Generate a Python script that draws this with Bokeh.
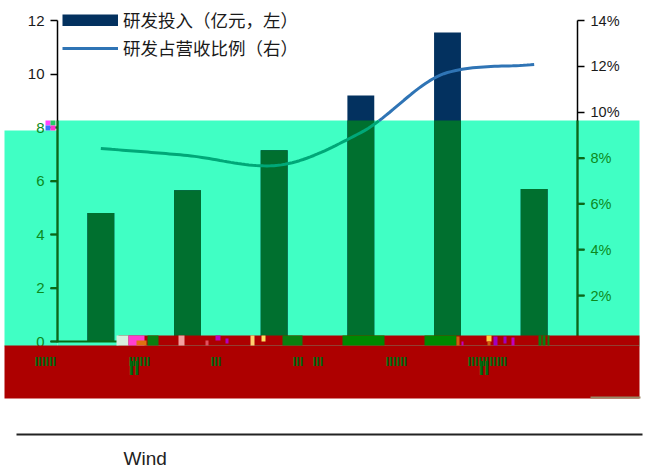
from bokeh.plotting import figure
from bokeh.layouts import column
from bokeh.models import (Legend, LegendItem, LinearAxis, Range1d, FixedTicker)
from bokeh.core.properties import value
from bokeh.embed import file_html
from bokeh.resources import INLINE

positions = [0, 1, 2, 3, 4, 5]
rd_spend = [4.8, 5.65, 7.15, 9.2, 11.55, 5.7]
rd_ratio = [8.42, 8.11, 7.67, 9.11, 11.73, 12.08]
left_ticks = [0, 2, 4, 6, 8, 10, 12]
right_ticks = [2, 4, 6, 8, 10, 12, 14]
series_names = ["研发投入（亿元，左）", "研发占营收比例（右）"]
footer_source = "Wind"
garbled_small = ["IIIIII", "IIIIII", "III", "III", "III", "IIIIII", "IIIIIIIIIII"]
garbled_tall = ["II", "II"]

W, H = 651, 468
FL, FR, FT, FB = 57, 577, 20, 341
NAVY, BLUE, TEAL, RED = "#03315f", "#2f74b5", "#40ffc4", "#ad0000"
BARG, LINEG, AXG, LABG = "#00702f", "#00a878", "#0a6a14", "#0c8a1c"
L_PX = (FB - FT) / 12
R_PX = (FB - FT) / 14
band_left = (FB - 120) / L_PX
band_right = (FB - 120) / R_PX


def page_figure(fill):
    f = figure(width=W, height=H, output_backend="svg", toolbar_location=None,
               x_range=Range1d(0, W), y_range=Range1d(H, 0),
               min_border_left=0, min_border_right=0, min_border_top=0, min_border_bottom=0,
               background_fill_color=None, border_fill_color=fill, outline_line_color=None,
               x_axis_location=None, y_axis_location=None, frame_align=False)
    f.grid.visible = False
    return f


def rect(f, l, t, r, b, c):
    f.quad(left=[l], right=[r], top=[t], bottom=[b], fill_color=c, line_color=None)


def txt(f, x, y, s, c, size="15px", font="Liberation Sans", style="normal", base="middle", align="left"):
    f.text(x=[x], y=[y], text=[s], text_color=c, text_font=value(font), text_font_style=style,
           text_font_size=value(size), text_baseline=base, text_align=align)


# ---- bottom layer: the teal band
under = page_figure("white")
rect(under, 4, 130, 57, 346, TEAL)
rect(under, 57, 120, 639, 346, TEAL)

# ---- middle layer: the chart itself
p = figure(width=W, height=H, output_backend="svg", toolbar_location=None,
           x_range=Range1d(-0.5, 5.5), y_range=Range1d(0, FB / L_PX),
           min_border_left=FL, min_border_right=W - FR, min_border_top=0, min_border_bottom=H - FB,
           background_fill_color=None, border_fill_color=None, outline_line_color=None,
           margin=(-H, 0, 0, 0), frame_align=False)
p.grid.visible = False
p.xaxis.visible = False
p.extra_y_ranges["pct"] = Range1d(0, FB / R_PX)

p.vbar(x=positions, top=rd_spend, bottom=0, width=0.31, fill_color=NAVY, line_color=None)
p.vbar(x=positions, top=[min(v, band_left) for v in rd_spend], bottom=0, width=0.31,
       fill_color=BARG, line_color=None)
# legend key only: a thick navy line lying below the visible range
navy_key = p.line(positions, [-5 for _ in positions], line_color=NAVY, line_width=12)


def smooth(xs, ys, n=24):
    # Hermite display curve through the read values
    m = len(xs)
    sec = [ys[i + 1] - ys[i] for i in range(m - 1)]
    tan = [sec[0]]
    for i in range(1, m - 1):
        a, b = sec[i - 1], sec[i]
        harm = 2 * a * b / (a + b) if a * b > 0 else 0.0
        tan.append(0.5 * (0.5 * (a + b) + harm))
    tan.append(sec[-1])
    ox, oy = [], []
    for i in range(m - 1):
        for k in range(n):
            t = k / n
            ox.append(xs[i] + t)
            oy.append((2 * t**3 - 3 * t**2 + 1) * ys[i] + (t**3 - 2 * t**2 + t) * tan[i]
                      + (-2 * t**3 + 3 * t**2) * ys[i + 1] + (t**3 - t**2) * tan[i + 1])
    ox.append(xs[-1]); oy.append(ys[-1])
    return ox, oy


sx, sy = smooth(positions, rd_ratio)
cross = next(i for i, v in enumerate(sy) if v > band_right)
blue = p.line(sx[cross - 1:], sy[cross - 1:], y_range_name="pct", line_color=BLUE, line_width=3)
p.line(sx[:cross], sy[:cross], y_range_name="pct", line_color=LINEG, line_width=3)

lax = p.yaxis[0]
lax.bounds = (0, 12)
lax.ticker = FixedTicker(ticks=left_ticks)
lax.major_label_overrides = {v: ("" if v <= 8 else str(v)) for v in left_ticks}
rax = LinearAxis(y_range_name="pct", bounds=(0, 14), ticker=FixedTicker(ticks=right_ticks),
                 major_label_overrides={v: ("" if v <= 8 else f"{v}%") for v in right_ticks})
p.add_layout(rax, "right")
for ax, size in ((lax, "15px"), (rax, "14.5px")):
    ax.axis_line_color = "black"
    ax.axis_line_width = 1.5
    ax.major_tick_line_color = "black"
    ax.major_tick_line_width = 1.5
    ax.major_tick_out = 7
    ax.major_tick_in = 0
    ax.minor_tick_line_color = None
    ax.major_label_text_font = "Liberation Sans"
    ax.major_label_text_font_size = size
    ax.major_label_text_color = "#1a1a1a"
    ax.major_label_standoff = 6

legend = Legend(items=[LegendItem(label=series_names[0], renderers=[navy_key]),
                       LegendItem(label=series_names[1], renderers=[blue])],
                location=(5, 281), orientation="vertical", background_fill_alpha=0, border_line_color=None,
                padding=0, margin=0, glyph_width=56, glyph_height=12, label_height=20, spacing=3,
                label_standoff=5, label_text_font="Noto Sans CJK SC", label_text_font_size="17.5px",
                label_text_color="#1a1a1a", label_text_baseline="middle")
p.add_layout(legend)

# ---- top layer: green overprint, red block, corrupted patches, footer
top = page_figure(None)
top.margin = (-H, 0, 0, 0)
for xa in (FL, FR):
    rect(top, xa - 1, 120, xa + 1, 342, AXG)
rect(top, FL, 340, 118, 342, AXG)
for v in left_ticks:
    if v <= 8:
        y = FB - v * L_PX
        rect(top, 50, y - 1, 57, y + 1, AXG)
        txt(top, 44, y, str(v), LABG, align="right")
for v in right_ticks:
    if v <= 8:
        y = FB - v * R_PX
        rect(top, 577, y - 1, 584, y + 1, AXG)
        txt(top, 590, y, f"{v}%", LABG, size="14.5px")

rect(top, 4, 345, 639, 398, RED)
rect(top, 118, 335, 639, 345, RED)

patches = [
    (45, 120, 50, 125, "#ff44ff"), (50, 120, 55, 125, "#22cc66"), (45, 125, 50, 130, "#3377ff"), (50, 125, 55, 130, "#ff33cc"),
    (116, 335, 128, 345, "#d8f0e0"), (128, 335, 144, 345, "#ff3fd0"), (136, 340, 146, 345, "#e07010"),
    (147, 335, 158, 345, "#0a7f10"), (178, 335, 184, 345, "#f4a0a0"),
    (215, 335, 220, 340, "#c000c0"), (205, 340, 208, 345, "#e05060"), (225, 338, 228, 343, "#b000c0"),
    (250, 335, 254, 345, "#ffd070"), (261, 335, 265, 341, "#ffe060"),
    (282, 335, 302, 345, "#0a7f10"), (342, 335, 384, 345, "#008800"), (424, 335, 456, 345, "#008800"),
    (456, 336, 459, 345, "#d06010"), (461, 341, 463, 345, "#c000c0"),
    (486, 335, 491, 341, "#ffd040"), (487, 341, 490, 345, "#d06010"), (493, 336, 497, 345, "#a000c0"),
    (503, 336, 506, 343, "#a000c0"), (511, 337, 514, 345, "#c000c0"),
    (538, 335, 541, 345, "#0a7f10"), (542, 335, 545, 345, "#0a7f10"), (547, 335, 549, 345, "#0a7f10"),
    (590, 396, 640, 398, "#998866"),
]
for l, t, r, b, c in patches:
    rect(top, l, t, r, b, c)

for x0, s in zip([34, 128, 210, 292, 312, 385, 467], garbled_small):
    txt(top, x0, 361, s, "#006a10", "13px", style="bold")
for x0, s in zip([128, 478], garbled_tall):
    txt(top, x0, 367, s, "#006a10", "20px", style="bold")

rect(top, 16, 433, 642, 435, "#222222")
txt(top, 123, 458, footer_source, "#222222", "19px")

root = column(under, p, top, spacing=0)
open("out.html", "w").write(file_html(root, INLINE))
